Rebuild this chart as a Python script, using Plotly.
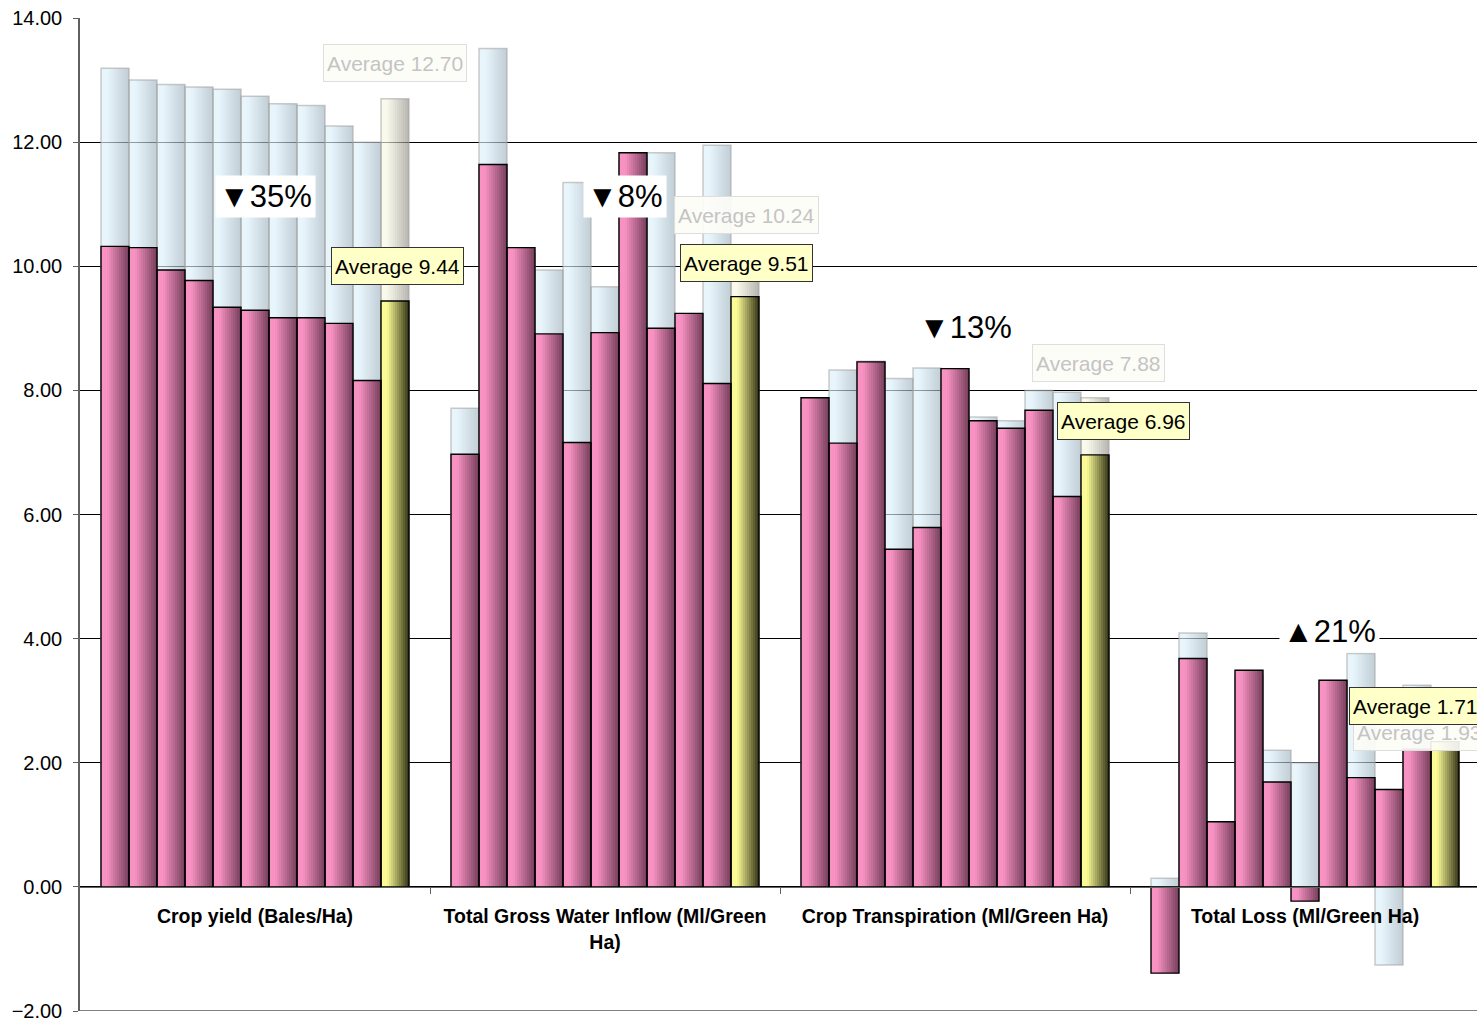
import plotly.graph_objects as go

# ---------------- data ----------------
categories = [
    "Crop yield (Bales/Ha)",
    "Total Gross Water Inflow (Ml/Green<br>Ha)",
    "Crop Transpiration (Ml/Green Ha)",
    "Total Loss (Ml/Green Ha)",
]

# current period (pink bars), ten items per category
current_crop = [10.32, 10.30, 9.94, 9.77, 9.34, 9.29, 9.17, 9.17, 9.08, 8.16]
current_inflow = [6.97, 11.64, 10.30, 8.91, 7.16, 8.93, 11.83, 9.00, 9.24, 8.11]
current_transp = [7.88, 7.15, 8.46, 5.44, 5.79, 8.35, 7.51, 7.39, 7.68, 6.29]
current_loss = [-1.39, 3.68, 1.05, 3.49, 1.69, -0.23, 3.33, 1.76, 1.57, 2.22]
current_avg_bar = [9.44, 9.51, 6.96, 2.34]
current_avg_label = [9.44, 9.51, 6.96, 1.71]

# previous period (light blue bars)
previous_crop = [13.19, 13.00, 12.93, 12.89, 12.85, 12.74, 12.62, 12.59, 12.26, 12.00]
previous_inflow = [7.71, 13.51, 10.20, 9.94, 11.35, 9.67, 11.70, 11.83, 9.10, 11.95]
previous_transp = [7.80, 8.33, 8.47, 8.19, 8.36, 8.30, 7.57, 7.51, 8.00, 7.97]
previous_loss = [0.14, 4.09, 1.00, 3.40, 2.20, 2.00, 3.30, 3.76, -1.26, 3.25]
previous_avg = [12.70, 10.24, 7.88, 1.93]

change_labels = ["▼35%", "▼8%", "▼13%", "▲21%"]

# ---------------- layout helpers ----------------
BW = 0.08          # bar width (category units)
NSTRIP = 14        # strips used to imitate the horizontal gradient
FONT = "Liberation Sans, Arial, sans-serif"

current_items = [current_crop, current_inflow, current_transp, current_loss]
previous_items = [previous_crop, previous_inflow, previous_transp, previous_loss]

xs, cur_vals, prev_vals, is_avg = [], [], [], []
for k in range(4):
    vals_c = current_items[k] + [current_avg_bar[k]]
    vals_p = previous_items[k] + [previous_avg[k]]
    for j in range(11):
        xs.append(k + (j - 5) * BW)
        cur_vals.append(vals_c[j])
        prev_vals.append(vals_p[j])
        is_avg.append(j == 10)


def lerp(c1, c2, t):
    return tuple(c1[i] + (c2[i] - c1[i]) * t for i in range(3))


def shade(t, start):
    return max(0.0, (t - start) / (1 - start))


def rgb(c):
    return "rgb(%d,%d,%d)" % tuple(round(v) for v in c)


def rgba_over_white(c, a):
    cc = [255 - (255 - v) / a for v in c]
    cc = [min(255, max(0, v)) for v in cc]
    return "rgba(%d,%d,%d,%.2f)" % (round(cc[0]), round(cc[1]), round(cc[2]), a)


PINK_L, PINK_R = (247, 146, 194), (116, 62, 90)
YEL_L, YEL_R = (250, 250, 150), (50, 50, 22)
BLUE_L, BLUE_R = (232, 246, 252), (194, 205, 214)
BACK_L, BACK_R = (250, 250, 236), (182, 182, 176)
ALPHA = 0.65

fig = go.Figure()

# previous-period bars (semi transparent gradient)
for s in range(NSTRIP):
    t = (s + 0.5) / NSTRIP
    cols = []
    for a in is_avg:
        if a:
            cols.append(rgba_over_white(lerp(BACK_L, BACK_R, shade(t, 0.2)), ALPHA))
        else:
            cols.append(rgba_over_white(lerp(BLUE_L, BLUE_R, shade(t, 0.2)), ALPHA))
    fig.add_trace(go.Bar(
        x=xs, y=prev_vals, width=BW / NSTRIP, offset=-BW / 2 + s * BW / NSTRIP,
        marker=dict(color=cols, line=dict(width=0)),
        hoverinfo="skip", showlegend=False,
    ))
fig.add_trace(go.Bar(
    x=xs, y=prev_vals, width=BW,
    marker=dict(color="rgba(0,0,0,0)", line=dict(color="rgba(160,160,160,0.55)", width=1.5)),
    hoverinfo="skip", showlegend=False,
))

# current-period bars (opaque gradient)
for s in range(NSTRIP):
    t = (s + 0.5) / NSTRIP
    cols = []
    for a in is_avg:
        if a:
            cols.append(rgb(lerp(YEL_L, YEL_R, shade(t, 0.22))))
        else:
            cols.append(rgb(lerp(PINK_L, PINK_R, shade(t, 0.22))))
    fig.add_trace(go.Bar(
        x=xs, y=cur_vals, width=BW / NSTRIP, offset=-BW / 2 + s * BW / NSTRIP,
        marker=dict(color=cols, line=dict(width=0)),
        hoverinfo="skip", showlegend=False,
    ))
fig.add_trace(go.Bar(
    x=xs, y=cur_vals, width=BW,
    marker=dict(color="rgba(0,0,0,0)", line=dict(color="black", width=1.4)),
    hoverinfo="skip", showlegend=False,
))

# ---------------- annotations ----------------
prev_label_pos = [(0.400, 13.27, "center"), (1.403, 10.82, "center"),
                  (2.409, 8.44, "center"), (3.137, 2.50, "left")]
cur_label_pos = [(0.406, 10.00, "center"), (1.403, 10.05, "center"),
                 (2.480, 7.50, "center"), (3.126, 2.92, "left")]
change_pos = [(0.031, 11.12), (1.056, 11.12), (2.031, 9.02), (3.071, 4.11)]

for k in range(4):
    x, y, xa = prev_label_pos[k]
    fig.add_annotation(
        x=x, y=y, xref="x", yref="y", xanchor=xa, yanchor="middle",
        text="Average %.2f" % previous_avg[k], showarrow=False,
        font=dict(family=FONT, size=21, color="#c4c4c4"),
        bgcolor="rgba(253,253,247,0.92)", bordercolor="#dedede", borderwidth=1,
        borderpad=3, height=30,
    )
for k in range(4):
    x, y, xa = cur_label_pos[k]
    fig.add_annotation(
        x=x, y=y, xref="x", yref="y", xanchor=xa, yanchor="middle",
        text="Average %.2f" % current_avg_label[k], showarrow=False,
        font=dict(family=FONT, size=21, color="black"),
        bgcolor="#ffffc8", bordercolor="#333333", borderwidth=1,
        borderpad=3, height=30,
    )
for k in range(4):
    x, y = change_pos[k]
    fig.add_annotation(
        x=x, y=y, xref="x", yref="y", xanchor="center", yanchor="middle",
        text=change_labels[k], showarrow=False,
        font=dict(family=FONT, size=31, color="black"),
        bgcolor="white", borderpad=3,
    )

# bottom gridline at the axis minimum
fig.add_shape(type="line", xref="paper", yref="y", x0=0, x1=1, y0=-2, y1=-2,
              line=dict(color="black", width=1), layer="below")

fig.update_layout(
    width=1477, height=1020,
    margin=dict(l=80, r=0, t=18, b=9, autoexpand=False),
    barmode="overlay",
    plot_bgcolor="white", paper_bgcolor="white",
    showlegend=False,
    xaxis=dict(
        range=[-0.5, -0.5 + 1397 / 350],
        anchor="free", position=0.125, automargin=False,
        showline=True, linecolor="#606060", linewidth=1,
        tickmode="array", tickvals=[0, 1, 2, 3], ticktext=categories,
        ticks="", showgrid=False, zeroline=False,
        minor=dict(tickmode="array", tickvals=[0.5, 1.5, 2.5], ticks="outside",
                   ticklen=6, tickcolor="#606060", showgrid=False),
        tickfont=dict(family=FONT, size=19.5, color="black", weight="bold"),
        ticklabelstandoff=12,
    ),
    yaxis=dict(
        range=[-2, 14], tickmode="array", tickvals=list(range(-2, 15, 2)),
        tickformat=".2f", automargin=False, ticklabeloverflow="allow",
        showline=True, linecolor="#606060", linewidth=1.5,
        ticks="outside", ticklen=5, tickcolor="#606060",
        showgrid=True, gridcolor="black", gridwidth=1, zeroline=False,
        tickfont=dict(family=FONT, size=20, color="black"),
        ticklabelstandoff=7,
    ),
)

# remove the default page margin so the figure fills the 1477x1020 window exactly
fig.write_html(
    "out.html",
    config={"displayModeBar": False},
    post_script="document.body.style.margin='0';document.body.style.overflow='hidden';",
)
